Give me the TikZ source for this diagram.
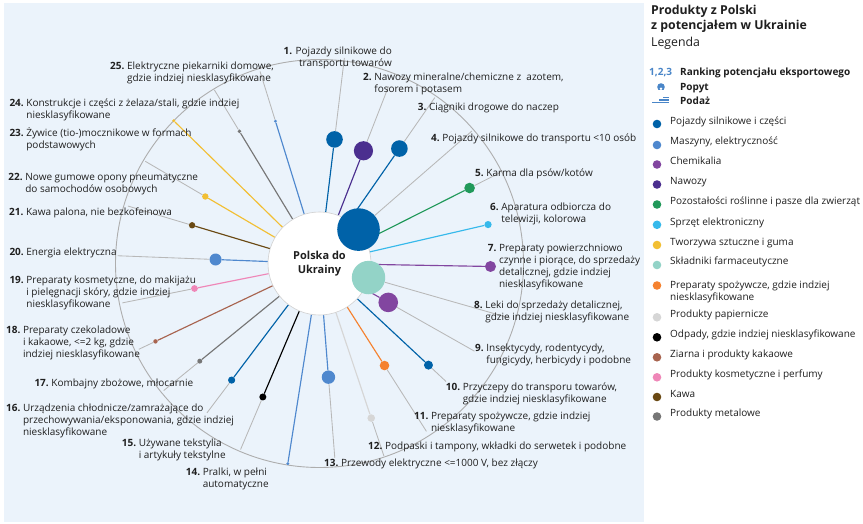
\documentclass[tikz,border=0pt]{standalone}
\usepackage{fontspec}
\setmainfont{Open Sans}
\pgfdeclarelayer{back}
\pgfdeclarelayer{lines}
\pgfsetlayers{back,lines,main}
\definecolor{cPoj}{HTML}{0062A8}
\definecolor{cMas}{HTML}{4F88CE}
\definecolor{cChe}{HTML}{8246A0}
\definecolor{cNaw}{HTML}{4B2F8F}
\definecolor{cPoz}{HTML}{21995A}
\definecolor{cSpr}{HTML}{36B9EB}
\definecolor{cTwo}{HTML}{F2BF33}
\definecolor{cFar}{HTML}{93D3C7}
\definecolor{cSpo}{HTML}{F58230}
\definecolor{cPap}{HTML}{D6D6D6}
\definecolor{cOdp}{HTML}{000000}
\definecolor{cZia}{HTML}{A8644F}
\definecolor{cKos}{HTML}{EF87B8}
\definecolor{cKaw}{HTML}{6A4913}
\definecolor{cMet}{HTML}{767676}
\definecolor{bgpanel}{HTML}{EBF3FB}
\definecolor{linkgray}{HTML}{B8B8B8}
\definecolor{arcgray}{HTML}{ADADAD}
\definecolor{circlegray}{HTML}{D0D0D0}
\definecolor{txt}{HTML}{1F1F1F}
\definecolor{rankblue}{HTML}{4A86C8}
\newcommand{\numlab}[2]{\begin{tabular}[t]{@{}l@{\ }l@{}}\textbf{#1.}&#2\end{tabular}}
\begin{document}
\begin{tikzpicture}[x=1pt,y=-1pt,
  lbl/.style={font=\fontsize{10}{12}\selectfont, text=txt, inner sep=0pt, anchor=base west},
  lblr/.style={lbl, anchor=base east},
  dotn/.style={circle, inner sep=0pt, minimum size=#1, draw=none},
  spoke/.style={line width=1.15pt},
  graylink/.style={draw=linkgray, line width=0.85pt},
  legtxt/.style={font=\fontsize{10}{11.8}\selectfont, text=txt, inner sep=0pt, anchor=base west},
  leghead/.style={font=\fontsize{10}{12}\selectfont\bfseries, text=txt, inner sep=0pt, anchor=base west},
  title/.style={font=\fontsize{12.3}{14.5}\selectfont, text=txt, inner sep=0pt, anchor=base west}]
\useasboundingbox (0,0) rectangle (863,524);
\begin{pgfonlayer}{back}
  \fill[white] (0,0) rectangle (863,524);
  \fill[bgpanel] (4,3) rectangle (644,522);
\end{pgfonlayer}
\begin{pgfonlayer}{lines}
  \draw[arcgray, line width=0.9pt] (319.5,263.5) circle[radius=204pt];
\end{pgfonlayer}
% centre
\node[circle, fill=white, draw=circlegray, line width=0.6pt, minimum size=103pt, inner sep=0pt,
      font=\fontsize{11}{13.3}\selectfont\bfseries, align=center, text=txt] (c) at (319.5,263.5) {Polska do\\Ukrainy};
% dots and coloured spokes
\foreach \k/\an/\cl/\rd/\dm in {
  1/83.1/cPoj/125/16.6, 2/68.7/cNaw/121/19.2, 3/55.2/cPoj/140/16.6, 4/41/cPoj/51.7/42.6,
  5/26.7/cPoz/168/10.6, 6/13/cSpr/173/7.2, 7/-1/cChe/171/11, 8/-16/cFar/51/33.4,
  9/-29.5/cChe/79/19.6, 10/-43/cPoj/149/9, 11/-57.5/cSpo/121/9.6, 12/-71.5/cPap/163/7.6,
  13/-85.5/cMas/114/13.4, 14/-99/cMas/202.6/3.2, 15/-113/cOdp/145/7, 16/-127/cPoj/146/7.2,
  17/-140.8/cMet/154.5/5, 18/-154.6/cZia/181.6/4.4, 19/-168.7/cKos/127.5/6.8, 20/-182.2/cMas/104/12,
  21/-196.7/cKaw/133/6.4, 22/-210.4/cTwo/132.4/6.4, 23/-224.4/cTwo/204/3.2, 24/-238.8/cMet/154.5/3.8,
  25/-252.8/cMas/149/3.2}{
  \node[dotn=\dm pt, fill=\cl] (d\k) at ({319.5+\rd*cos(\an)},{263.5-\rd*sin(\an)}) {};
  \begin{pgfonlayer}{lines}
    \draw[spoke, draw=\cl] (c) -- (d\k);
  \end{pgfonlayer}
}
% grey links to labels
\foreach \k/\an/\re in {1/83.1/207, 2/68.7/190, 3/55.2/202, 4/41/202, 5/26.7/202, 8/-16/198,
  9/-29.5/178, 10/-43/173, 11/-57.5/199, 12/-71.5/203, 13/-85.5/195, 15/-113/202, 16/-127/187,
  17/-140.8/201, 18/-154.6/200, 19/-168.7/201, 20/-182.2/202, 21/-196.7/200, 22/-210.4/202,
  24/-238.8/203, 25/-252.8/201}{
  \coordinate (e\k) at ({319.5+\re*cos(\an)},{263.5-\re*sin(\an)});
  \begin{pgfonlayer}{lines}
    \draw[graylink] (d\k) -- (e\k);
  \end{pgfonlayer}
}
% labels
\node[lblr] (t1) at (392,54.3) {\begin{tabular}[t]{@{}r@{}}\textbf{1.} Pojazdy silnikowe do\\transportu towarów\end{tabular}};
\node[lbl] (t2) at (363,80.9) {\numlab{2}{Nawozy mineralne/chemiczne z\ \ azotem,\\&fosorem i potasem}};
\node[lbl] (t3) at (417.7,110.3) {\numlab{3}{Ciągniki drogowe do naczep}};
\node[lbl] (t4) at (431,141.9) {\numlab{4}{Pojazdy silnikowe do transportu <10 osób}};
\node[lbl] (t5) at (475,176.3) {\numlab{5}{Karma dla psów/kotów}};
\node[lbl] (t6) at (490,210.9) {\numlab{6}{Aparatura odbiorcza do\\&telewizji, kolorowa}};
\node[lbl] (t7) at (487.7,251.3) {\numlab{7}{Preparaty powierzchniowo\\&czynne i piorące, do sprzedaży\\&detalicznej, gdzie indziej\\&niesklasyfikowane}};
\node[lbl] (t8) at (474,308.6) {\numlab{8}{Leki do sprzedaży detalicznej,\\&gdzie indziej niesklasyfikowane}};
\node[lbl] (t9) at (475,351.9) {\numlab{9}{Insektycydy, rodentycydy,\\&fungicydy, herbicydy i podobne}};
\node[lbl] (t10) at (445.7,390.3) {\numlab{10}{Przyczepy do transporu towarów,\\&gdzie indziej niesklasyfikowane}};
\node[lbl] (t11) at (414,419.3) {\numlab{11}{Preparaty spożywcze, gdzie indziej\\&niesklasyfikowane}};
\node[lbl] (t12) at (368,449.3) {\numlab{12}{Podpaski i tampony, wkładki do serwetek i podobne}};
\node[lbl] (t13) at (324,466.3) {\numlab{13}{Przewody elektryczne <=1000 V, bez złączy}};
\node[lbl] (t14) at (185.7,475.3) {\numlab{14}{Pralki, w pełni\\&automatyczne}};
\node[lbl] (t15) at (121.7,446.9) {\numlab{15}{Używane tekstylia\\&i artykuły tekstylne}};
\node[lbl] (t16) at (6,411.3) {\numlab{16}{Urządzenia chłodnicze/zamrażające do\\&przechowywania/eksponowania, gdzie indziej\\&niesklasyfikowane}};
\node[lbl] (t17) at (34.3,386.9) {\numlab{17}{Kombajny zbożowe, młocarnie}};
\node[lbl] (t18) at (6,333.6) {\numlab{18}{Preparaty czekoladowe\\&i kakaowe, <=2 kg, gdzie\\&indziej niesklasyfikowane}};
\node[lbl] (t19) at (9.3,283.6) {\numlab{19}{Preparaty kosmetyczne, do makijażu\\&i pielęgnacji skóry, gdzie indziej\\&niesklasyfikowane}};
\node[lbl] (t20) at (9.3,255.3) {\numlab{20}{Energia elektryczna}};
\node[lbl] (t21) at (9,215.3) {\numlab{21}{Kawa palona, nie bezkofeinowa}};
\node[lbl] (t22) at (8.3,180.3) {\numlab{22}{Nowe gumowe opony pneumatyczne\\&do samochodów osobowych}};
\node[lbl] (t23) at (9.3,136.3) {\numlab{23}{Żywice (tio-)mocznikowe w formach\\&podstawowych}};
\node[lbl] (t24) at (9.3,106.3) {\numlab{24}{Konstrukcje i części z żelaza/stali, gdzie indziej\\&niesklasyfikowane}};
\node[lbl] (t25) at (110,69.6) {\numlab{25}{Elektryczne piekarniki domowe,\\&gdzie indziej niesklasyfikowane}};
% legend
\node[title, font=\fontsize{12.3}{14.5}\selectfont\bfseries] (lg1) at (651,14.4) {Produkty z Polski};
\node[title, font=\fontsize{12.3}{14.5}\selectfont\bfseries] (lg2) at (651,29.1) {z potencjałem w Ukrainie};
\node[title] (lg3) at (651,46.4) {Legenda};
\node[leghead, text=rankblue] (rk1) at (649,75.6) {1,2,3};
\node[leghead] (rk2) at (680,75.6) {Ranking potencjału eksportowego};
\node[leghead] (pp) at (680,90.8) {Popyt};
\node[leghead] (pd) at (680,104.8) {Podaż};
\fill[rankblue] (661,87) circle[radius=3.8pt];
\fill[white] (661,88.8) circle[radius=1.4pt];
\fill[white] (656,90.4) rectangle (666,91.8);
\fill[rankblue] (663,96.8) rectangle (669,98.2);
\fill[rankblue] (658.5,99.3) rectangle (669,100.7);
\fill[rankblue] (652,101.8) rectangle (669,103.2);
\foreach \k/\cl/\ty/\dy/\tx in {
  1/cPoj/120.7/124/{Pojazdy silnikowe i części},
  2/cMas/141/145/{Maszyny, elektryczność},
  3/cChe/161/164.5/{Chemikalia},
  4/cNaw/181/184.5/{Nawozy},
  5/cPoz/201.3/204.5/{Pozostałości roślinne i pasze dla zwierząt},
  6/cSpr/221.5/224.8/{Sprzęt elektroniczny},
  7/cTwo/241.5/245/{Tworzywa sztuczne i guma},
  8/cFar/261.3/265/{Składniki farmaceutyczne},
  9/cSpo/285/285.5/{Preparaty spożywcze, gdzie indziej\\niesklasyfikowane},
  10/cPap/314/317.3/{Produkty papiernicze},
  11/cOdp/334/337.3/{Odpady, gdzie indziej niesklasyfikowane},
  12/cZia/354/357.3/{Ziarna i produkty kakaowe},
  13/cKos/374/377.3/{Produkty kosmetyczne i perfumy},
  14/cKaw/393.5/397/{Kawa},
  15/cMet/413.3/416.5/{Produkty metalowe}}{
  \node[dotn=8.6pt, fill=\cl] (ld\k) at (657,\dy) {};
  \node[legtxt] (lt\k) at (670,\ty+3.6) {\begin{tabular}[t]{@{}l@{}}\tx\end{tabular}};
}
\end{tikzpicture}
\end{document}
